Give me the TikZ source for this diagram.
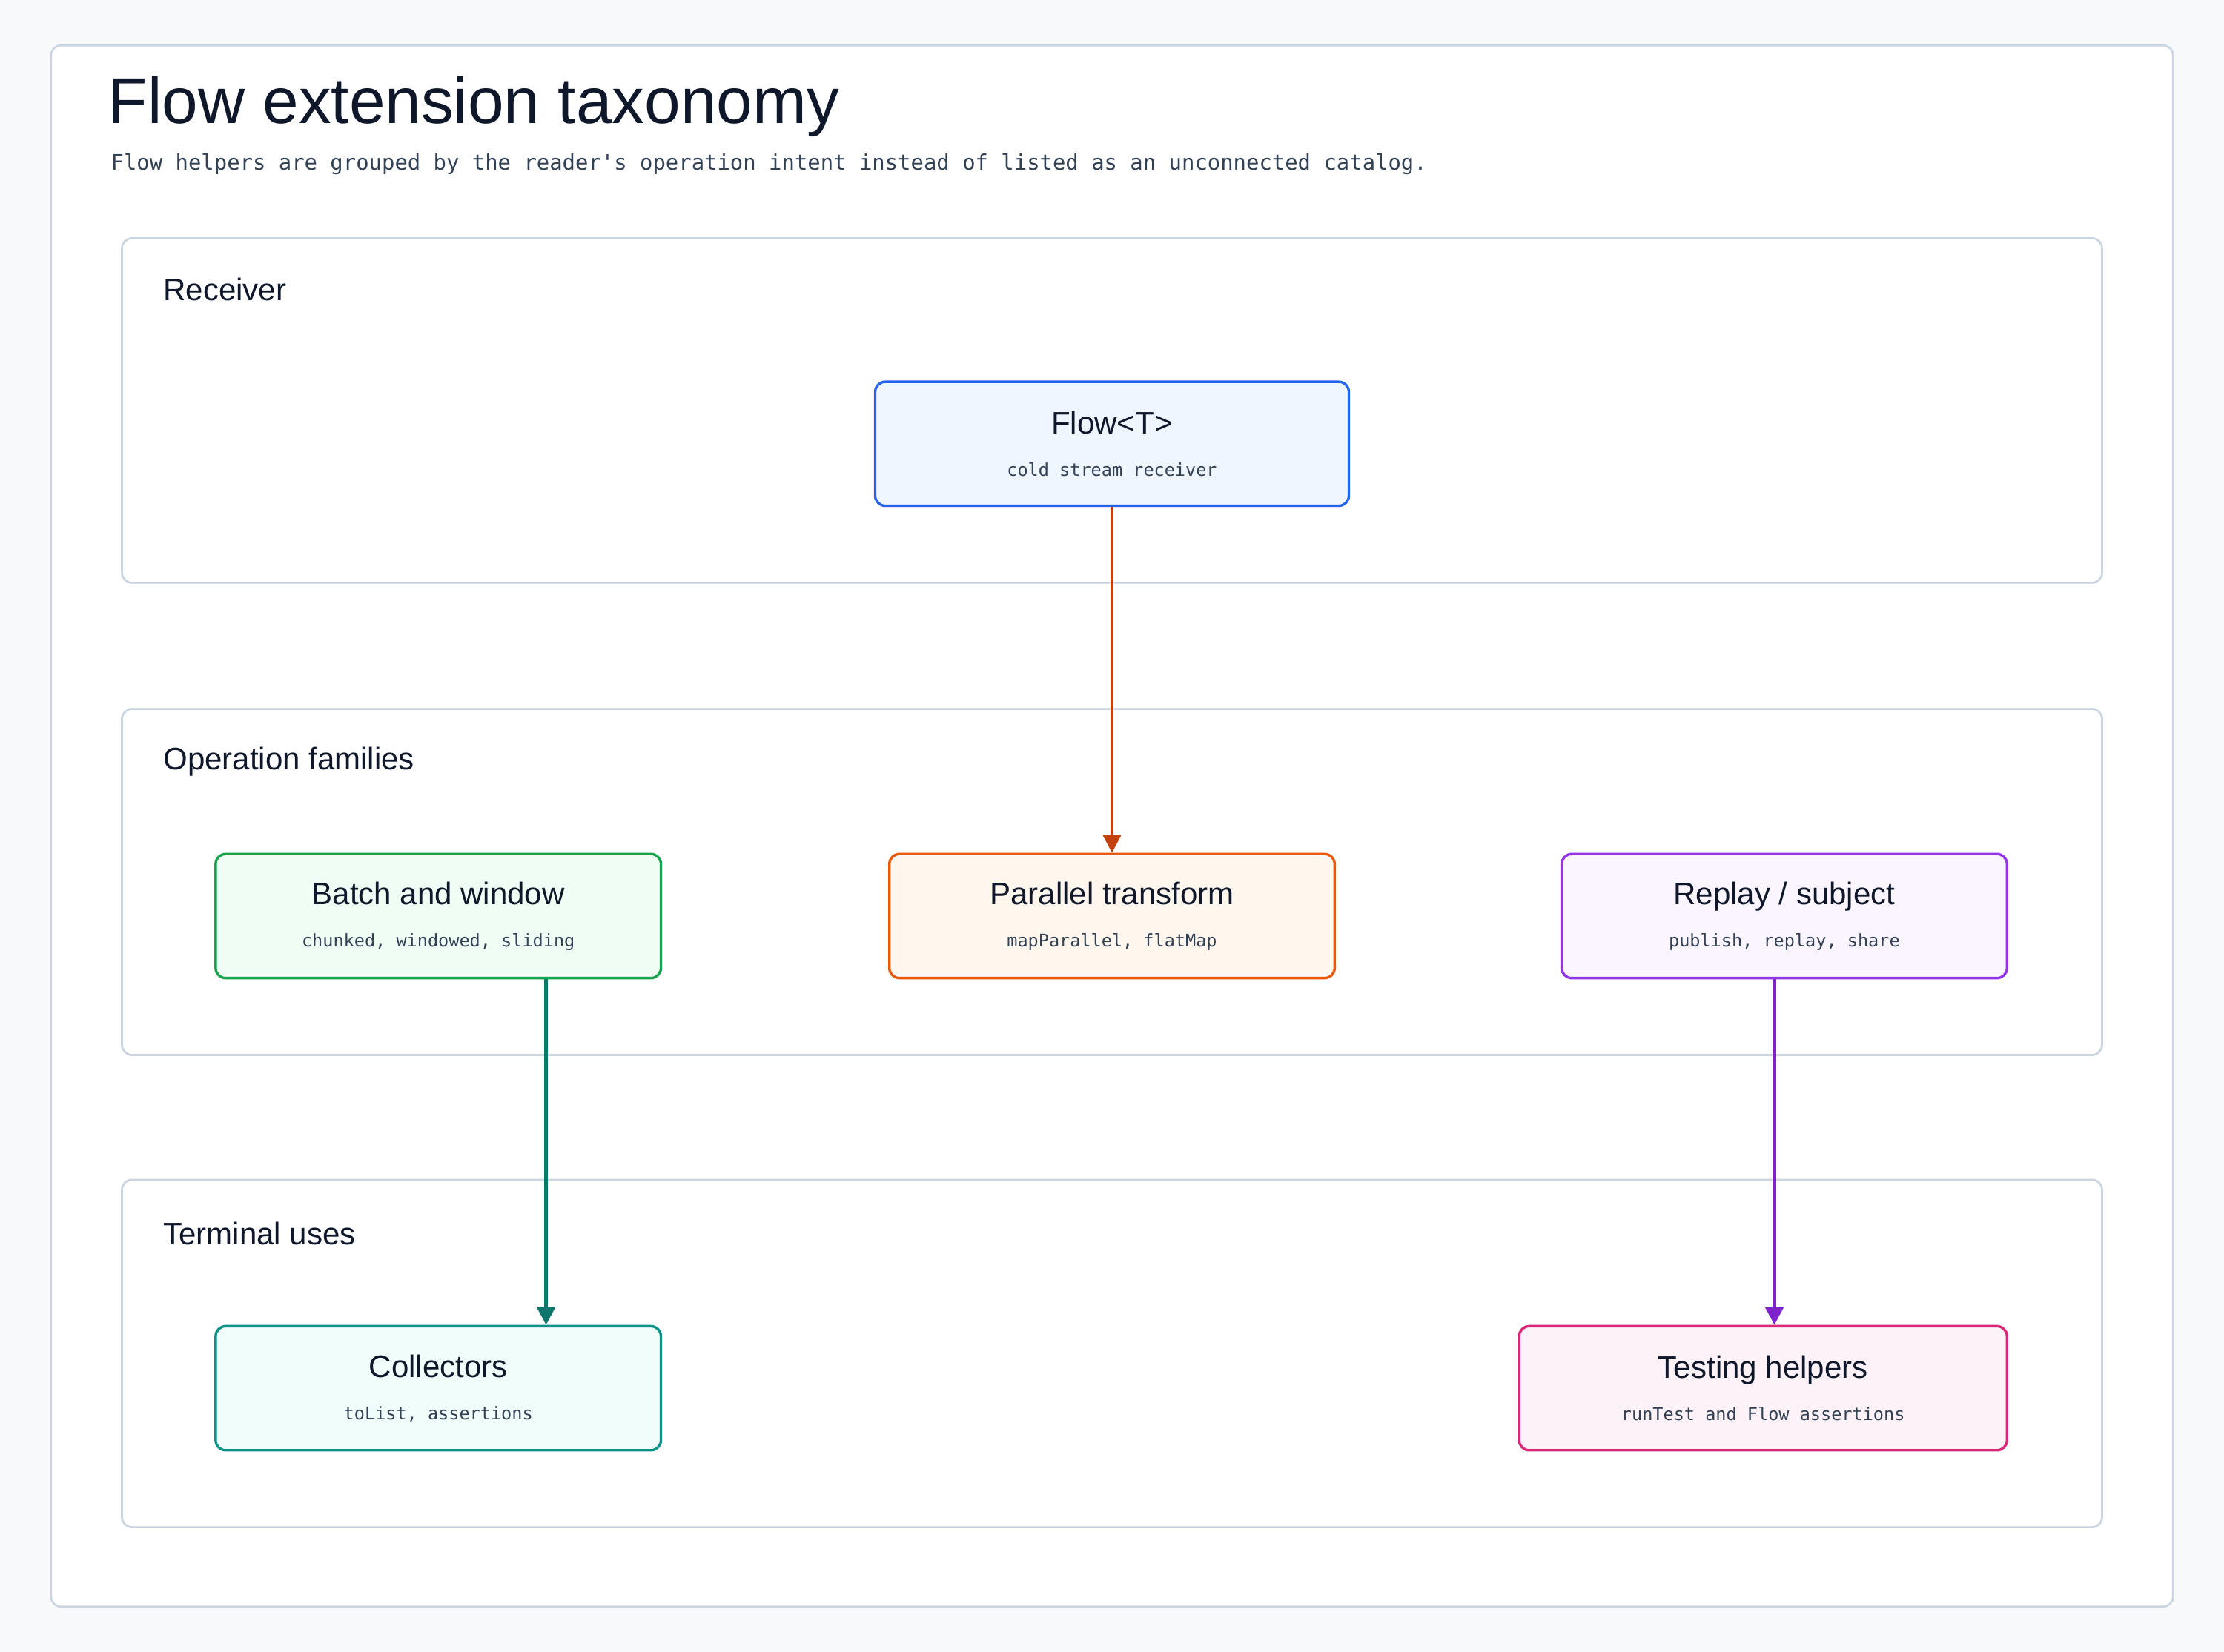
\documentclass[tikz,border=0pt]{standalone}
\usepackage{fontspec}
\setmainfont{Liberation Sans}
\newfontfamily\monofont{DejaVu Sans Mono}
\usetikzlibrary{calc}
\usetikzlibrary{positioning}
\usetikzlibrary{arrows.meta}
\definecolor{bgc}{HTML}{F8F9FB}
\definecolor{linec}{HTML}{CBD5E1}
\definecolor{inkc}{HTML}{0F172A}
\definecolor{subc}{HTML}{334155}
\definecolor{blueD}{HTML}{2563EB}\definecolor{blueL}{HTML}{EFF6FF}
\definecolor{greenD}{HTML}{16A34A}\definecolor{greenL}{HTML}{F0FDF4}
\definecolor{orangeD}{HTML}{EA580C}\definecolor{orangeL}{HTML}{FFF7ED}
\definecolor{purpleD}{HTML}{9333EA}\definecolor{purpleL}{HTML}{FAF5FF}
\definecolor{tealD}{HTML}{0D9488}\definecolor{tealL}{HTML}{F0FDFA}
\definecolor{pinkD}{HTML}{DB2777}\definecolor{pinkL}{HTML}{FDF2F8}
\definecolor{arrRed}{HTML}{C2410C}
\definecolor{arrTeal}{HTML}{0F766E}
\definecolor{arrPurple}{HTML}{7E22CE}
\tikzstyle{panel} = [draw=linec, line width=0.8pt, rounded corners=4pt, fill=white]
\tikzstyle{panellabel} = [anchor=west, font=\fontsize{12.5}{14}\selectfont, text=inkc]
\tikzstyle{opnode} = [draw, line width=1pt, rounded corners=4pt, minimum width=6.28cm, minimum height=1.75cm, align=center, text=inkc, font=\fontsize{12.5}{15}\selectfont]
\tikzstyle{link} = [line width=1.4pt, -{Triangle[length=7pt,width=7pt]}]
\newcommand{\opsub}[1]{\\[2pt]{\monofont\fontsize{7}{9}\selectfont\color{subc}#1}}
\usepackage{amsmath}

\begin{document}
\begin{tikzpicture}[x=0.02cm, y=-0.02cm]
    \fill[bgc] (0,0) rectangle (1568,1165);
    \draw[panel] (36,32) rectangle (1532,1133);
    \node[anchor=west, font=\fontsize{26}{30}\selectfont, text=inkc] (title) at (70,75) {Flow extension taxonomy};
    \node[anchor=west, font=\monofont\fontsize{8.6}{11}\selectfont, text=subc] (subtitle) at (72,116) {Flow helpers are grouped by the reader's operation intent instead of listed as an unconnected catalog.};
    \draw[panel] (86,168) rectangle (1482,411);
    \node[panellabel] (receiver_lbl) at (109,204) {Receiver};
    \draw[panel] (86,500) rectangle (1482,744);
    \node[panellabel] (ops_lbl) at (109,537) {Operation families};
    \draw[panel] (86,832) rectangle (1482,1077);
    \node[panellabel] (term_lbl) at (109,870) {Terminal uses};
    \node[opnode, draw=blueD, fill=blueL, minimum width=6.68cm] (flow) at (784,313) {Flow<T>\opsub{cold stream receiver}};
    \node[opnode, draw=greenD, fill=greenL] (batch) at (309,646) {Batch and window\opsub{chunked, windowed, sliding}};
    \node[opnode, draw=orangeD, fill=orangeL] (parallel) at (784,646) {Parallel transform\opsub{mapParallel, flatMap}};
    \node[opnode, draw=purpleD, fill=purpleL] (replay) at (1258,646) {Replay / subject\opsub{publish, replay, share}};
    \node[opnode, draw=tealD, fill=tealL] (collectors) at (309,979) {Collectors\opsub{toList, assertions}};
    \node[opnode, draw=pinkD, fill=pinkL, minimum width=6.88cm] (testing) at (1243,979) {Testing helpers\opsub{runTest and Flow assertions}};
    \draw[link, color=arrRed] (flow) -- (parallel);
    \draw[link, color=arrTeal] ([xshift=1.52cm]batch.south) -- ([xshift=1.52cm]batch.south |- collectors.north);
    \draw[link, color=arrPurple] ([xshift=-0.14cm]replay.south) -- ([xshift=-0.14cm]replay.south |- testing.north);
\end{tikzpicture}
\end{document}
